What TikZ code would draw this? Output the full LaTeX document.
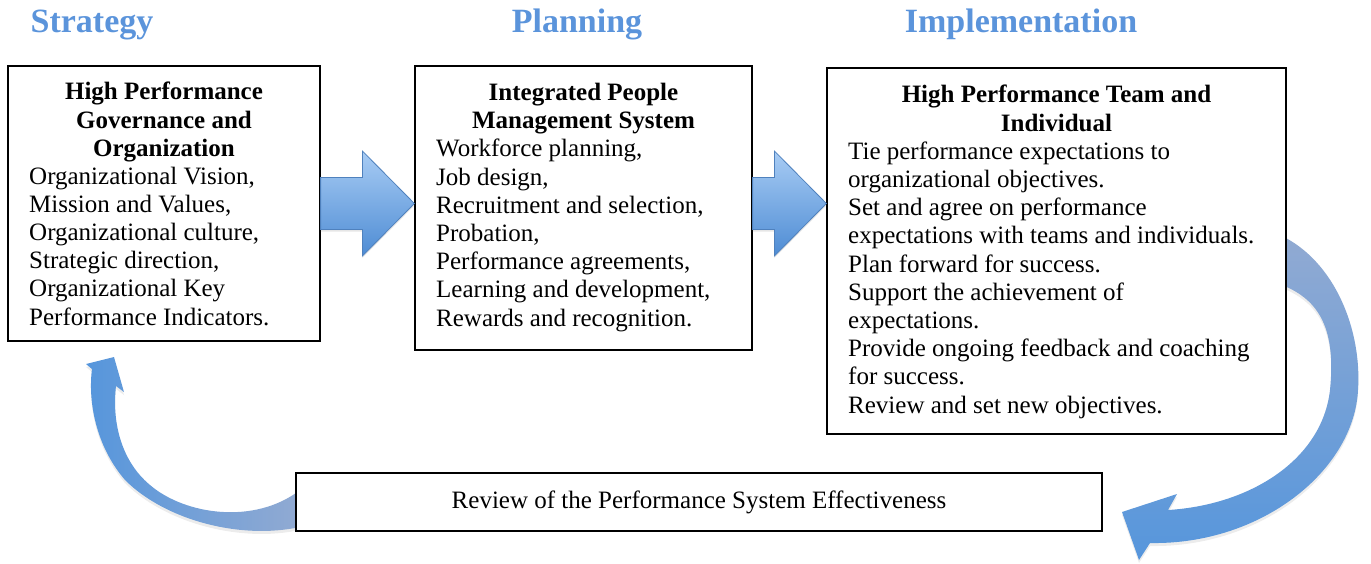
\documentclass[tikz,border=0pt]{standalone}
\usepackage{fontspec}
\setmainfont{Liberation Serif}
\usetikzlibrary{calc,shadows}

\definecolor{phaseblue}{RGB}{91,148,219}
\definecolor{arrowlight}{RGB}{168,204,244}
\definecolor{arrowdark}{RGB}{78,140,212}
\definecolor{arrowline}{RGB}{79,129,189}
\definecolor{loopblue}{RGB}{86,150,220}
\definecolor{loopgrey}{RGB}{145,170,210}

% straight block arrow between two boxes, centred on a given height
\newcommand\blockarrow[3]{%
  \path[blockarrow] let \p1=(#1.east), \p2=(#2.west) in
    (\x1,{-(#3-26)*1pt}) -- ({\x2-52pt},{-(#3-26)*1pt})
    -- ({\x2-52pt},{-(#3-52.5)*1pt}) -- (\x2,{-#3*1pt})
    -- ({\x2-52pt},{-(#3+52.5)*1pt}) -- ({\x2-52pt},{-(#3+26)*1pt})
    -- (\x1,{-(#3+26)*1pt}) -- cycle;}

\begin{document}
\begin{tikzpicture}[x=1pt,y=-1pt,
  box/.style={draw=black, line width=1.2pt, fill=white, inner sep=0pt},
  phase/.style={font=\fontsize{34}{38}\selectfont\bfseries, text=phaseblue,
    inner sep=0pt, anchor=base},
  boxtitle/.style={font=\fontsize{25}{28.2}\selectfont\bfseries, align=center,
    inner sep=0pt, anchor=north},
  boxbody/.style={font=\fontsize{25}{28.2}\selectfont, align=left,
    inner sep=0pt, anchor=north west},
  blockarrow/.style={draw=arrowline, line width=0.8pt,
    top color=arrowlight, bottom color=arrowdark,
    drop shadow={opacity=0.2, shadow xshift=0pt, shadow yshift=-2pt}},
  loopdown/.style={top color=loopgrey, bottom color=loopblue,
    drop shadow={opacity=0.15, shadow xshift=0pt, shadow yshift=-3pt}},
  loopup/.style={left color=loopblue, right color=loopgrey,
    drop shadow={opacity=0.15, shadow xshift=0pt, shadow yshift=-3pt}}
]
\useasboundingbox (0,0) rectangle (1371,563);

% phase headings
\node[phase] (hs) at (92,32) {Strategy};
\node[phase] (hp) at (577,32) {Planning};
\node[phase] (hi) at (1021,32) {Implementation};

% feedback loop: implementation down to the review
\path[loopdown] (1282,236) .. controls (1335,262) and (1362,330) .. (1358,390)
  .. controls (1354,470) and (1262,545) .. (1150,543)
  -- (1139,560) -- (1122,512) -- (1177,494) -- (1168,510)
  .. controls (1250,505) and (1322,460) .. (1330,390)
  .. controls (1336,330) and (1320,300) .. (1282,285) -- cycle;

% feedback loop: review back up to strategy
\path[loopup] (300,527) .. controls (240,540) and (165,520) .. (125,480)
  .. controls (95,445) and (88,400) .. (92,369)
  -- (86,364) -- (114,357) -- (124,392) -- (116,386)
  .. controls (112,420) and (120,460) .. (150,485)
  .. controls (185,515) and (255,525) .. (300,490) -- cycle;

% boxes
\node[box, minimum width=312, minimum height=275] (b1) at (164,203.5) {};
\node[box, minimum width=337, minimum height=284] (b2) at (583.5,208) {};
\node[box, minimum width=459, minimum height=366] (b3) at (1056.5,251) {};
\node[box, minimum width=806, minimum height=58, font=\fontsize{25}{28}\selectfont]
  (rv) at (699,502) {Review of the Performance System Effectiveness};

% box contents
\node[boxtitle] (t1) at (164,82) {High Performance\\Governance and\\Organization};
\node[boxbody] (c1) at (29,166.5) {Organizational Vision,\\Mission and Values,\\%
Organizational culture,\\Strategic direction,\\Organizational Key\\%
Performance Indicators.};

\node[boxtitle] (t2) at (583.5,83) {Integrated People\\Management System};
\node[boxbody] (c2) at (436,139) {Workforce planning,\\Job design,\\%
Recruitment and selection,\\Probation,\\Performance agreements,\\%
Learning and development,\\Rewards and recognition.};

\node[boxtitle] (t3) at (1056.5,85) {High Performance Team and\\Individual};
\node[boxbody] (c3) at (848,141.5) {Tie performance expectations to\\%
organizational objectives.\\Set and agree on performance\\%
expectations with teams and individuals.\\Plan forward for success.\\%
Support the achievement of\\expectations.\\%
Provide ongoing feedback and coaching\\for success.\\%
Review and set new objectives.};

% flow arrows between the stages
\blockarrow{b1}{b2}{203.5}
\blockarrow{b2}{b3}{203.5}
\end{tikzpicture}
\end{document}
